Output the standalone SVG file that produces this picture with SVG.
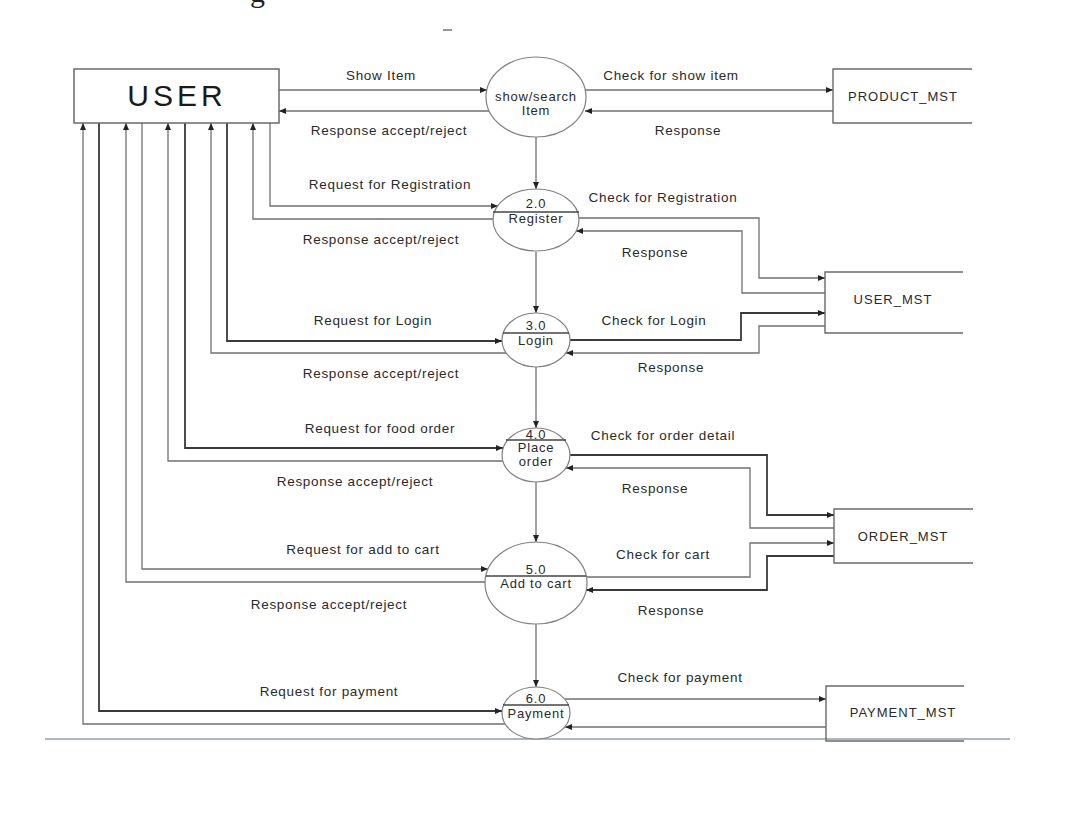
<svg xmlns="http://www.w3.org/2000/svg" width="1079" height="820" viewBox="0 0 1079 820">
<defs>
<marker id="ah" markerWidth="7" markerHeight="6" refX="7" refY="3" orient="auto" markerUnits="userSpaceOnUse">
<path d="M0,0 L7,3 L0,6 z" fill="#222"/>
</marker>
<style>
.ln{fill:none;stroke:#707070;stroke-width:1.3}
.dk{fill:none;stroke:#3a3a3a;stroke-width:1.8}
.ar{marker-end:url(#ah)}
.proc{fill:#fff;stroke:#808080;stroke-width:1.2}
.div{stroke:#444;stroke-width:1.6}
.store{fill:none;stroke:#6a6a6a;stroke-width:1.4}
.lbl{font-family:"Liberation Sans",Arial,sans-serif;font-size:13.5px;letter-spacing:0.7px;fill:#2a2a2a;text-anchor:middle}
.pt{font-family:"Liberation Sans",Arial,sans-serif;font-size:13px;letter-spacing:0.8px;fill:#2a2a2a;text-anchor:middle}
.st{font-family:"Liberation Sans",Arial,sans-serif;font-size:13px;letter-spacing:1px;fill:#2a2a2a;text-anchor:middle}
</style>
</defs>
<rect width="1079" height="820" fill="#fff"/>
<text x="250" y="2" font-family="Liberation Serif, serif" font-size="30" fill="#222">g</text>
<line x1="443" y1="30" x2="452" y2="30" stroke="#777" stroke-width="1.5"/>
<line x1="45" y1="739" x2="1010" y2="739" stroke="#aab8c2" stroke-width="2"/>

<g id="connectors">
<path class="ln ar" d="M279 90 H487"/>
<path class="ln ar" d="M489 111 H279"/>
<path class="ln ar" d="M585 90 H833"/>
<path class="ln ar" d="M833 111 H585"/>
<path class="ln ar" d="M536 137 V189"/>
<path class="ln ar" d="M536 252 V313"/>
<path class="ln ar" d="M536 367 V428"/>
<path class="ln ar" d="M536 482 V542"/>
<path class="ln ar" d="M536 624 V687"/>
<path class="ln ar" d="M270 123 V206 H498"/>
<path class="dk ar" d="M227 123 V341 H502"/>
<path class="dk ar" d="M185 123 V448 H503"/>
<path class="ln ar" d="M142 123 V569 H488"/>
<path class="dk ar" d="M99 123 V711 H502"/>
<path class="ln ar" d="M493 219 H253 V123"/>
<path class="ln ar" d="M506 353 H211 V123"/>
<path class="ln ar" d="M503 461 H168 V123"/>
<path class="ln ar" d="M485 582 H126 V123"/>
<path class="ln ar" d="M505 724 H83 V123"/>
<path class="ln ar" d="M579 218 H759 V278 H825"/>
<path class="ln ar" d="M825 293 H742 V231 H576"/>
<path class="dk ar" d="M570 340 H741 V313 H825"/>
<path class="ln ar" d="M825 326 H759 V353 H566"/>
<path class="dk ar" d="M570 455 H767 V515 H834"/>
<path class="ln ar" d="M834 528 H750 V468 H566"/>
<path class="ln ar" d="M587 577 H750 V543 H834"/>
<path class="dk ar" d="M834 556 H767 V590 H586"/>
<path class="ln ar" d="M565 699 H826"/>
<path class="ln ar" d="M826 727 H565"/>
</g>

<g id="labels">
<text class="lbl" x="381" y="80">Show Item</text>
<text class="lbl" x="389" y="135">Response accept/reject</text>
<text class="lbl" x="390" y="189">Request for Registration</text>
<text class="lbl" x="381" y="244">Response accept/reject</text>
<text class="lbl" x="373" y="325">Request for Login</text>
<text class="lbl" x="381" y="378">Response accept/reject</text>
<text class="lbl" x="380" y="433">Request for food order</text>
<text class="lbl" x="355" y="486">Response accept/reject</text>
<text class="lbl" x="363" y="554">Request for add to cart</text>
<text class="lbl" x="329" y="609">Response accept/reject</text>
<text class="lbl" x="329" y="696">Request for payment</text>
<text class="lbl" x="671" y="80">Check for show item</text>
<text class="lbl" x="688" y="135">Response</text>
<text class="lbl" x="663" y="202">Check for Registration</text>
<text class="lbl" x="655" y="257">Response</text>
<text class="lbl" x="654" y="325">Check for Login</text>
<text class="lbl" x="671" y="372">Response</text>
<text class="lbl" x="663" y="440">Check for order detail</text>
<text class="lbl" x="655" y="493">Response</text>
<text class="lbl" x="663" y="559">Check for cart</text>
<text class="lbl" x="671" y="615">Response</text>
<text class="lbl" x="680" y="682">Check for payment</text>
</g>

<g id="user">
<rect x="74" y="69" width="205" height="54" fill="#fff" stroke="#6a6a6a" stroke-width="1.5"/>
<text x="177" y="106" font-family="Liberation Sans, Arial, sans-serif" font-size="30" letter-spacing="4" fill="#1a1a1a" text-anchor="middle">USER</text>
</g>

<g id="p1">
<ellipse class="proc" cx="536" cy="97" rx="50" ry="40"/>
<text class="pt" x="536" y="101">show/search</text>
<text class="pt" x="536" y="115">Item</text>
</g>

<g id="p2">
<ellipse class="proc" cx="536" cy="220" rx="43" ry="31"/>
<line class="div" x1="493" y1="212" x2="579" y2="212"/>
<text class="pt" x="536" y="208">2.0</text>
<text class="pt" x="536" y="223">Register</text>
</g>

<g id="p3">
<ellipse class="proc" cx="536" cy="340" rx="34" ry="27"/>
<line class="div" x1="503" y1="333" x2="569" y2="333"/>
<text class="pt" x="536" y="330">3.0</text>
<text class="pt" x="536" y="345">Login</text>
</g>

<g id="p4">
<ellipse class="proc" cx="536" cy="455" rx="34" ry="27"/>
<line class="div" x1="506" y1="440" x2="566" y2="440"/>
<text class="pt" x="536" y="439">4.0</text>
<text class="pt" x="536" y="452">Place</text>
<text class="pt" x="536" y="466">order</text>
</g>

<g id="p5">
<ellipse class="proc" cx="536" cy="583" rx="51" ry="41"/>
<line class="div" x1="486" y1="576" x2="586" y2="576"/>
<text class="pt" x="536" y="574">5.0</text>
<text class="pt" x="536" y="588">Add to cart</text>
</g>

<g id="p6">
<ellipse class="proc" cx="536" cy="713" rx="34" ry="26"/>
<line class="div" x1="503" y1="705" x2="569" y2="705"/>
<text class="pt" x="536" y="703">6.0</text>
<text class="pt" x="536" y="718">Payment</text>
</g>

<g id="product_mst">
<path class="store" d="M972 69 H833 V123 H972"/>
<text class="st" x="903" y="101">PRODUCT_MST</text>
</g>

<g id="user_mst">
<path class="store" d="M963 272 H825 V333 H963"/>
<text class="st" x="893" y="304">USER_MST</text>
</g>

<g id="order_mst">
<path class="store" d="M973 509 H834 V563 H973"/>
<text class="st" x="903" y="541">ORDER_MST</text>
</g>

<g id="payment_mst">
<path class="store" d="M964 686 H826 V741 H964"/>
<text class="st" x="903" y="717">PAYMENT_MST</text>
</g>
</svg>
